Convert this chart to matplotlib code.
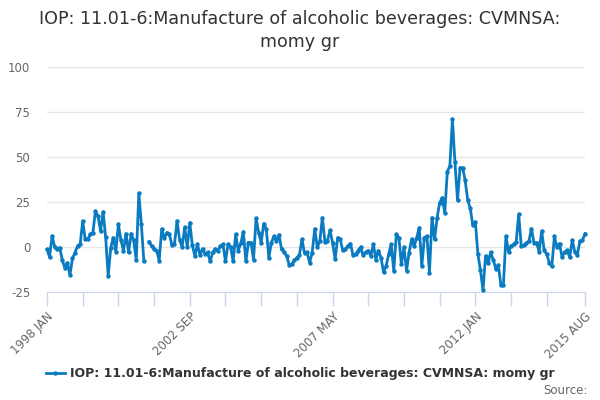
import numpy as np
import matplotlib
matplotlib.use("Agg")
import matplotlib.pyplot as plt

# monthly series, 1998 JAN .. 2015 AUG (index 39 missing in source)
values = [
    -1.3, -5.6, 6.1, 0.2, -1.3, -0.4, -7.4, -11.5, -8.7, -15.6,
    -6.3, -3.1, 0.6, 1.5, 14.4, 4.3, 4.5, 7.0, 8.0, 20.0,
    17.0, 9.0, 19.6, 5.6, -16.0, -0.4, 5.2, -2.5, 12.6, 3.7,
    -2.0, 7.4, -3.0, 7.4, 3.7, -7.4, 30.0, 12.6, -8.0, np.nan,
    3.0, 0.5, -1.0, -2.0, -7.5, 10.0, 5.0, 8.0, 7.0, 1.0,
    1.5, 14.5, 4.0, 0.0, 11.0, 0.0, 13.5, 1.0, -5.0, 1.5,
    -4.5, -1.0, -4.0, -3.0, -8.0, -3.0, -1.0, -2.0, 0.5, 1.5,
    -8.0, 1.5, 0.0, -8.0, 7.0, -2.0, 2.0, 8.5, -8.0, 2.5,
    2.5, -7.0, 16.0, 8.0, 2.4, 13.0, 10.0, -6.0, 2.4, 6.0,
    3.3, 6.7, -1.3, -3.0, -5.0, -10.0, -9.6, -7.4, -6.0, -4.4,
    4.3, -3.5, -3.0, -8.7, -3.1, 10.0, 0.0, 3.3, 16.3, 3.0,
    3.5, 9.3, 2.4, -6.9, 5.2, 4.3, -1.9, -1.3, 0.6, 1.9,
    -4.4, -4.0, -2.0, 0.0, -4.6, -2.8, -2.0, -5.0, 1.5, -7.0,
    -2.0, -6.0, -14.0, -10.6, -4.0, 1.5, -13.3, 7.0, 5.2, -9.6,
    0.0, -13.3, -3.1, 4.3, 0.6, 5.2, 10.7, -10.6, 5.2, 6.0,
    -14.3, 16.3, 4.3, 16.3, 24.6, 27.4, 19.0, 41.9, 45.0, 71.0,
    47.0, 26.0, 44.0, 44.0, 37.0, 26.0, 21.5, 12.0, 14.0, -4.0,
    -13.0, -24.0, -5.0, -9.0, -3.0, -7.0, -12.0, -10.0, -21.0, -21.0,
    6.0, -2.6, 0.6, 1.5, 2.8, 18.1, 0.6, 1.0, 2.2, 3.3,
    10.2, 2.4, 2.4, -2.6, 8.9, -1.9, -4.0, -8.7, -10.6, 6.0,
    0.0, 1.9, -5.6, -2.8, -1.9, -5.6, 3.7, -2.8, -4.4, 3.3,
    3.7, 7.4,
]
months = ['JAN', 'FEB', 'MAR', 'APR', 'MAY', 'JUN',
          'JUL', 'AUG', 'SEP', 'OCT', 'NOV', 'DEC']
start_year = 1998
series_name = "IOP: 11.01-6:Manufacture of alcoholic beverages: CVMNSA: momy gr"
title = "IOP: 11.01-6:Manufacture of alcoholic beverages: CVMNSA:\nmomy gr"
y_ticks = [-25, 0, 25, 50, 75, 100]

n = len(values)
x = np.arange(n)

def month_label(i):
    return f"{start_year + i // 12} {months[i % 12]}"

line_color = '#0a7bc1'
fig = plt.figure(figsize=(6, 4), dpi=100)
ax = fig.add_axes([47 / 600, 1 - 292 / 400, 538 / 600, 225 / 400])

ax.plot(x, values, color=line_color, lw=2, marker='o', ms=3.2,
        markeredgewidth=0, label=series_name, clip_on=False, zorder=3)

ax.set_xlim(0, n - 1)
ax.set_ylim(-25, 100)
ax.set_yticks(y_ticks)
ax.set_yticklabels([str(v) for v in y_ticks])
ax.grid(axis='y', color='#e6e6e6', lw=1)
ax.set_axisbelow(True)
for s in ['top', 'right', 'left']:
    ax.spines[s].set_visible(False)
ax.spines['bottom'].set_color('#ccd6eb')
ax.tick_params(axis='y', length=0, pad=12, labelsize=8.5, labelcolor='#666666')

# ticks every 14 months, labels every 4th tick, plus the final month
tick_pos = list(range(0, n - 14, 14)) + [n - 1]
ax.set_xticks(tick_pos)
labels = []
for i in tick_pos:
    labels.append(month_label(i) if (i % 56 == 0 or i == n - 1) else '')
ax.set_xticklabels(labels, rotation=45, ha='right', rotation_mode='anchor')
ax.tick_params(axis='x', length=10, color='#ccd6eb', width=1,
               labelsize=8.5, labelcolor='#666666', pad=3)

fig.text(0.5, 0.975, title, ha='center', va='top', fontsize=12.6,
         color='#333333', linespacing=1.35)

fig.legend(loc='center', bbox_to_anchor=(0.5, 1 - 374 / 400), frameon=False,
           prop={'weight': 'bold', 'size': 9}, labelcolor='#333333',
           handlelength=1.5, handletextpad=0.4)
fig.text(588 / 600, 1 - 390 / 400, 'Source:', ha='right', va='center',
         fontsize=8.5, color='#666666')

fig.savefig('out.png', dpi=100)
